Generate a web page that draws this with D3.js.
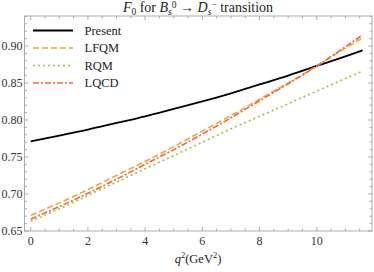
<!DOCTYPE html>
<html>
<head>
<meta charset="utf-8">
<script src="https://cdn.jsdelivr.net/npm/d3@7"></script>
<style>
  body { margin: 0; background: white; }
  text { font-family: "Liberation Serif", "DejaVu Serif", serif; }
</style>
</head>
<body>
<div id="chart"></div>
<script>
// q^2 values (GeV^2)
let q2 = [0, 1, 2, 3, 4, 5, 6, 7, 8, 9, 10, 11, 11.6];
let present = [0.771, 0.779, 0.787, 0.796, 0.805, 0.815, 0.825, 0.836, 0.848, 0.860, 0.873, 0.886, 0.894];
let lfqm = [0.671, 0.688, 0.706, 0.725, 0.744, 0.764, 0.785, 0.806, 0.828, 0.850, 0.873, 0.897, 0.911];
let rqm = [0.663, 0.680, 0.698, 0.716, 0.734, 0.752, 0.770, 0.788, 0.805, 0.822, 0.839, 0.856, 0.866];
let lqcd = [0.666, 0.683, 0.701, 0.720, 0.740, 0.760, 0.781, 0.803, 0.826, 0.849, 0.873, 0.899, 0.915];
let seriesNames = ["Present", "LFQM", "RQM", "LQCD"];
let xTicks = [0, 2, 4, 6, 8, 10];
let yTicks = [0.65, 0.70, 0.75, 0.80, 0.85, 0.90];

const wSvg = 374;
const hSvg = 272;
const pLeft = 24.5, pRight = 372, pTop = 16, pBottom = 231;

let xScale = d3.scaleLinear([-0.217, 11.93], [pLeft, pRight]);
let yScale = d3.scaleLinear([0.65, 0.9405], [pBottom, pTop]);

let svg = d3.select("#chart")
    .append("svg")
    .attr("width", wSvg)
    .attr("height", hSvg);

// frame ticks, pointing inward
let xMinor = d3.range(0, 12, 0.5);
let yMinor = d3.range(0.65, 0.941, 0.01);

function tickLen(v, step) {
    return Math.abs(v / step - Math.round(v / step)) < 1e-6 ? 4 : 2.5;
}

let tickG = svg.append("g").attr("stroke", "#999").attr("stroke-width", 0.8);

for (let v of xMinor) {
    let L = tickLen(v, 2);
    tickG.append("line").attr("x1", xScale(v)).attr("x2", xScale(v))
        .attr("y1", pBottom).attr("y2", pBottom - L);
    tickG.append("line").attr("x1", xScale(v)).attr("x2", xScale(v))
        .attr("y1", pTop).attr("y2", pTop + L);
}
for (let v of yMinor) {
    let L = tickLen(v - 0.65, 0.05);
    tickG.append("line").attr("y1", yScale(v)).attr("y2", yScale(v))
        .attr("x1", pLeft).attr("x2", pLeft + L);
    tickG.append("line").attr("y1", yScale(v)).attr("y2", yScale(v))
        .attr("x1", pRight).attr("x2", pRight - L);
}

svg.append("rect")
    .attr("x", pLeft).attr("y", pTop)
    .attr("width", pRight - pLeft).attr("height", pBottom - pTop)
    .attr("fill", "none")
    .attr("stroke", "#999")
    .attr("stroke-width", 0.8);

// tick labels
svg.selectAll(".xlab")
    .data(xTicks)
    .enter()
    .append("text")
    .attr("x", d => xScale(d))
    .attr("y", pBottom + 14)
    .attr("text-anchor", "middle")
    .attr("font-size", 12)
    .attr("fill", "#333")
    .text(d => d);

svg.selectAll(".ylab")
    .data(yTicks)
    .enter()
    .append("text")
    .attr("x", pLeft - 2)
    .attr("y", d => yScale(d) + 4)
    .attr("text-anchor", "end")
    .attr("font-size", 12)
    .attr("fill", "#333")
    .text(d => d3.format(".2f")(d));

// curves
let styles = [
    { data: present, color: "#000000", dash: null, width: 1.8 },
    { data: lfqm, color: "#F4A52C", dash: "6,3", width: 1.6 },
    { data: rqm, color: "#9CC13A", dash: "2,3", width: 1.6 },
    { data: lqcd, color: "#F2643F", dash: "6,2,2,2", width: 1.6 }
];

let line = d3.line()
    .x(d => xScale(d[0]))
    .y(d => yScale(d[1]))
    .curve(d3.curveNatural);

let drawOrder = [0, 2, 1, 3];
for (let i of drawOrder) {
    let s = styles[i];
    svg.append("path")
        .datum(q2.map((x, j) => [x, s.data[j]]))
        .attr("d", line)
        .attr("fill", "none")
        .attr("stroke", s.color)
        .attr("stroke-width", s.width)
        .attr("stroke-dasharray", s.dash);
}

// legend
let legendY = [30.5, 48, 65.5, 83];
styles.forEach((s, i) => {
    svg.append("line")
        .attr("x1", 33).attr("x2", 73)
        .attr("y1", legendY[i]).attr("y2", legendY[i])
        .attr("stroke", s.color)
        .attr("stroke-width", s.width)
        .attr("stroke-dasharray", s.dash);
    svg.append("text")
        .attr("x", 84.5)
        .attr("y", legendY[i] + 4)
        .attr("font-size", 12.5)
        .attr("fill", "#222")
        .text(seriesNames[i]);
});

// title
let title = svg.append("text")
    .attr("x", 198)
    .attr("y", 12)
    .attr("text-anchor", "middle")
    .attr("font-size", 14)
    .attr("fill", "#222");
title.append("tspan").attr("font-style", "italic").text("F");
title.append("tspan").attr("font-size", 9.5).attr("dy", 3).text("0");
title.append("tspan").attr("dy", -3).text(" for ");
title.append("tspan").attr("font-style", "italic").text("B");
title.append("tspan").attr("font-style", "italic").attr("font-size", 9.5).attr("dy", 3).text("s");
title.append("tspan").attr("font-size", 9.5).attr("dy", -7).text("0");
title.append("tspan").attr("dy", 4).text(" \u2192 ");
title.append("tspan").attr("font-style", "italic").text("D");
title.append("tspan").attr("font-style", "italic").attr("font-size", 9.5).attr("dy", 3).text("s");
title.append("tspan").attr("font-size", 9.5).attr("dy", -7).text("\u2212");
title.append("tspan").attr("dy", 4).text(" transition");

// x axis label
let xlab = svg.append("text")
    .attr("x", 198)
    .attr("y", 263)
    .attr("text-anchor", "middle")
    .attr("font-size", 12.5)
    .attr("fill", "#222");
xlab.append("tspan").attr("font-style", "italic").text("q");
xlab.append("tspan").attr("font-size", 8.5).attr("dy", -5).text("2");
xlab.append("tspan").attr("dy", 5).text("(GeV");
xlab.append("tspan").attr("font-size", 8.5).attr("dy", -5).text("2");
xlab.append("tspan").attr("dy", 5).text(")");
</script>
</body>
</html>
